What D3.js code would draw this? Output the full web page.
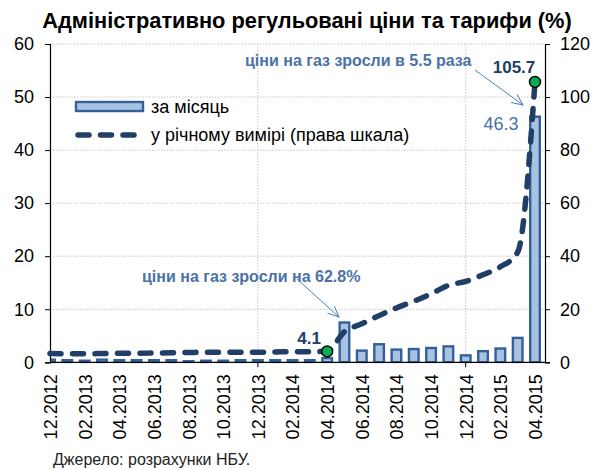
<!DOCTYPE html>
<html><head><meta charset="utf-8">
<script src="https://cdn.jsdelivr.net/npm/d3@7"></script>
<style>
body{margin:0;background:#fff;}
svg{display:block;}
text{font-family:Arial,"Liberation Sans",sans-serif;}
</style></head>
<body><svg id="c" width="606" height="470"></svg>
<script>
const months = ["12.2012","01.2013","02.2013","03.2013","04.2013","05.2013","06.2013","07.2013","08.2013","09.2013","10.2013","11.2013",
"12.2013","01.2014","02.2014","03.2014","04.2014","05.2014","06.2014","07.2014","08.2014","09.2014","10.2014","11.2014",
"12.2014","01.2015","02.2015","03.2015","04.2015"];
const monthly = [0.5,0.4,0.3,0.5,0.4,0.4,0.4,0.4,0.2,0.3,0.3,0.4,0.4,0.4,0.4,0.4,0.8,7.5,2.2,3.4,2.4,2.5,2.7,3.0,1.3,2.1,2.6,4.6,46.3];
const annual = [3.3,3.2,3.2,3.3,3.4,3.4,3.5,3.6,3.7,3.8,3.8,3.8,3.8,3.9,4.0,4.0,4.1,11.6,14.5,17.6,20.5,23.0,25.8,29.0,30.5,33.0,36.0,41.5,105.7];
const tickLabels = months.filter((m,i)=>i%2===0);
const leftTicks = [0,10,20,30,40,50,60];
const rightTicks = [0,20,40,60,80,100,120];
const gridMonths = ["12.2013","12.2014"];
const markers = ["04.2014","04.2015"];
const title = "Адміністративно регульовані ціни та тарифи (%)";
const legendLabels = ["за місяць","у річному вимірі (права шкала)"];
const notes = ["ціни на газ зросли в 5.5 раза","ціни на газ зросли на 62.8%"];
const source = "Джерело: розрахунки НБУ.";

const svg = d3.select("#c");
const L=50, R=545, T=44, B=362.3;
const x = d3.scalePoint().domain(months).range([50,535]);
const yL = d3.scaleLinear().domain([0,60]).range([B,T]);
const yR = d3.scaleLinear().domain([0,120]).range([B,T]);

const barFill="#a9c2e2", barStroke="#34609a", lineCol="#213f66", noteCol="#4a72a6";

// title
svg.append("text").attr("x",307).attr("y",28).attr("text-anchor","middle")
  .attr("font-size",21.8).attr("font-weight","bold").attr("fill","#000").text(title);

// grid
const g = svg.append("g");
g.selectAll(".hg").data(leftTicks.filter(d=>d>0)).join("line")
  .attr("x1",L).attr("x2",R).attr("y1",d=>yL(d)).attr("y2",d=>yL(d))
  .attr("stroke","#c4c4c4").attr("stroke-width",1).attr("stroke-dasharray","1.5 1.5");
g.selectAll(".vg").data(gridMonths).join("line")
  .attr("x1",d=>x(d)).attr("x2",d=>x(d)).attr("y1",T).attr("y2",B)
  .attr("stroke","#c4c4c4").attr("stroke-width",1).attr("stroke-dasharray","1.5 1.5");

// bars
svg.append("clipPath").attr("id","pc").append("rect").attr("x",L).attr("y",0).attr("width",R-L).attr("height",B+1);
const bw = 9.6;
svg.append("g").attr("clip-path","url(#pc)").selectAll("rect").data(months).join("rect")
  .attr("x",d=>x(d)-bw/2).attr("width",bw)
  .attr("y",(d,i)=>yL(monthly[i])).attr("height",(d,i)=>B-yL(monthly[i]))
  .attr("fill",barFill).attr("stroke",barStroke).attr("stroke-width",2.4);

// axes
const ax = svg.append("g").attr("transform",`translate(${L},0)`)
  .call(d3.axisLeft(yL).tickValues(leftTicks).tickSize(5).tickPadding(11).tickFormat(d3.format("d")));
const axR = svg.append("g").attr("transform",`translate(${R},0)`)
  .call(d3.axisRight(yR).tickValues(rightTicks).tickSize(5).tickPadding(10).tickFormat(d3.format("d")));
const axX = svg.append("g").attr("transform",`translate(0,${B})`)
  .call(d3.axisBottom(x).tickValues(tickLabels).tickSize(0).tickPadding(0));
[ax,axR,axX].forEach(a=>{
  a.select(".domain").attr("stroke","#000").attr("stroke-width",1.2);
  a.selectAll(".tick line").attr("stroke","#000");
  a.selectAll("text").attr("font-size",18).attr("fill","#000").attr("font-family","Arial, 'Liberation Sans', sans-serif");
});
axX.select(".domain").attr("d",`M${L},0H${R}`);
axX.selectAll(".tick text").attr("transform","rotate(-90)").attr("text-anchor","end")
  .attr("x",-12).attr("y",0).attr("dy","0.36em");
svg.append("g").selectAll("line").data(gridMonths).join("line")
  .attr("x1",d=>x(d)).attr("x2",d=>x(d)).attr("y1",B).attr("y2",B+5).attr("stroke","#000");

// annual line
const line = d3.line().x((d,i)=>x(months[i])).y(d=>yR(d)).curve(d3.curveMonotoneX);
svg.append("path").datum(annual).attr("d",line).attr("fill","none")
  .attr("stroke",lineCol).attr("stroke-width",5.5).attr("stroke-linecap","round")
  .attr("stroke-dasharray","11 11.5");

// markers
svg.append("g").selectAll("circle").data(markers).join("circle")
  .attr("cx",d=>x(d)).attr("cy",d=>yR(annual[months.indexOf(d)])).attr("r",5.5)
  .attr("fill","#00b050").attr("stroke","#000").attr("stroke-width",1.5);

// value labels
svg.append("text").attr("x",x("04.2014")-18).attr("y",344).attr("text-anchor","middle")
  .attr("font-size",17).attr("font-weight","bold").attr("fill",lineCol).text(annual[16].toFixed(1));
svg.append("text").attr("x",x("04.2015")-21).attr("y",73).attr("text-anchor","middle")
  .attr("font-size",17).attr("font-weight","bold").attr("fill",lineCol).text(annual[28].toFixed(1));
svg.append("text").attr("x",x("04.2015")-34).attr("y",130).attr("text-anchor","middle")
  .attr("font-size",18).attr("fill","#4a72a6").text(monthly[28].toFixed(1));

// annotations
svg.append("defs").append("marker").attr("id","ar").attr("viewBox","0 0 12 12").attr("refX",11).attr("refY",6)
  .attr("markerWidth",12).attr("markerHeight",12).attr("markerUnits","userSpaceOnUse").attr("orient","auto")
  .append("path").attr("d","M0,1 L11,6 L0,11").attr("fill","none").attr("stroke","#4f81bd").attr("stroke-width",1);
svg.append("text").attr("x",245).attr("y",66).attr("font-size",16).attr("font-weight","bold")
  .attr("font-family","'Open Sans','Noto Sans',sans-serif").attr("fill",noteCol).text(notes[0]);
svg.append("text").attr("x",142).attr("y",282).attr("font-size",16).attr("font-weight","bold")
  .attr("font-family","'Open Sans','Noto Sans',sans-serif").attr("fill",noteCol).text(notes[1]);
svg.append("line").attr("x1",475).attr("y1",70).attr("x2",523).attr("y2",105)
  .attr("stroke","#4f81bd").attr("stroke-width",1).attr("marker-end","url(#ar)");
svg.append("line").attr("x1",297).attr("y1",279).attr("x2",339).attr("y2",317)
  .attr("stroke","#4f81bd").attr("stroke-width",1).attr("marker-end","url(#ar)");

// legend
svg.append("rect").attr("x",76).attr("y",102).attr("width",67).attr("height",9)
  .attr("fill",barFill).attr("stroke",barStroke).attr("stroke-width",2.4);
svg.append("line").attr("x1",78).attr("x2",137).attr("y1",135).attr("y2",135)
  .attr("stroke",lineCol).attr("stroke-width",5.5).attr("stroke-linecap","round").attr("stroke-dasharray","11 11.5");
svg.append("text").attr("x",151).attr("y",113).attr("font-size",18).attr("fill","#000").text(legendLabels[0]);
svg.append("text").attr("x",151).attr("y",141).attr("font-size",18).attr("fill","#000").text(legendLabels[1]);

// source
svg.append("text").attr("x",53).attr("y",465).attr("font-size",16).attr("fill","#222").text(source);
</script></body></html>
